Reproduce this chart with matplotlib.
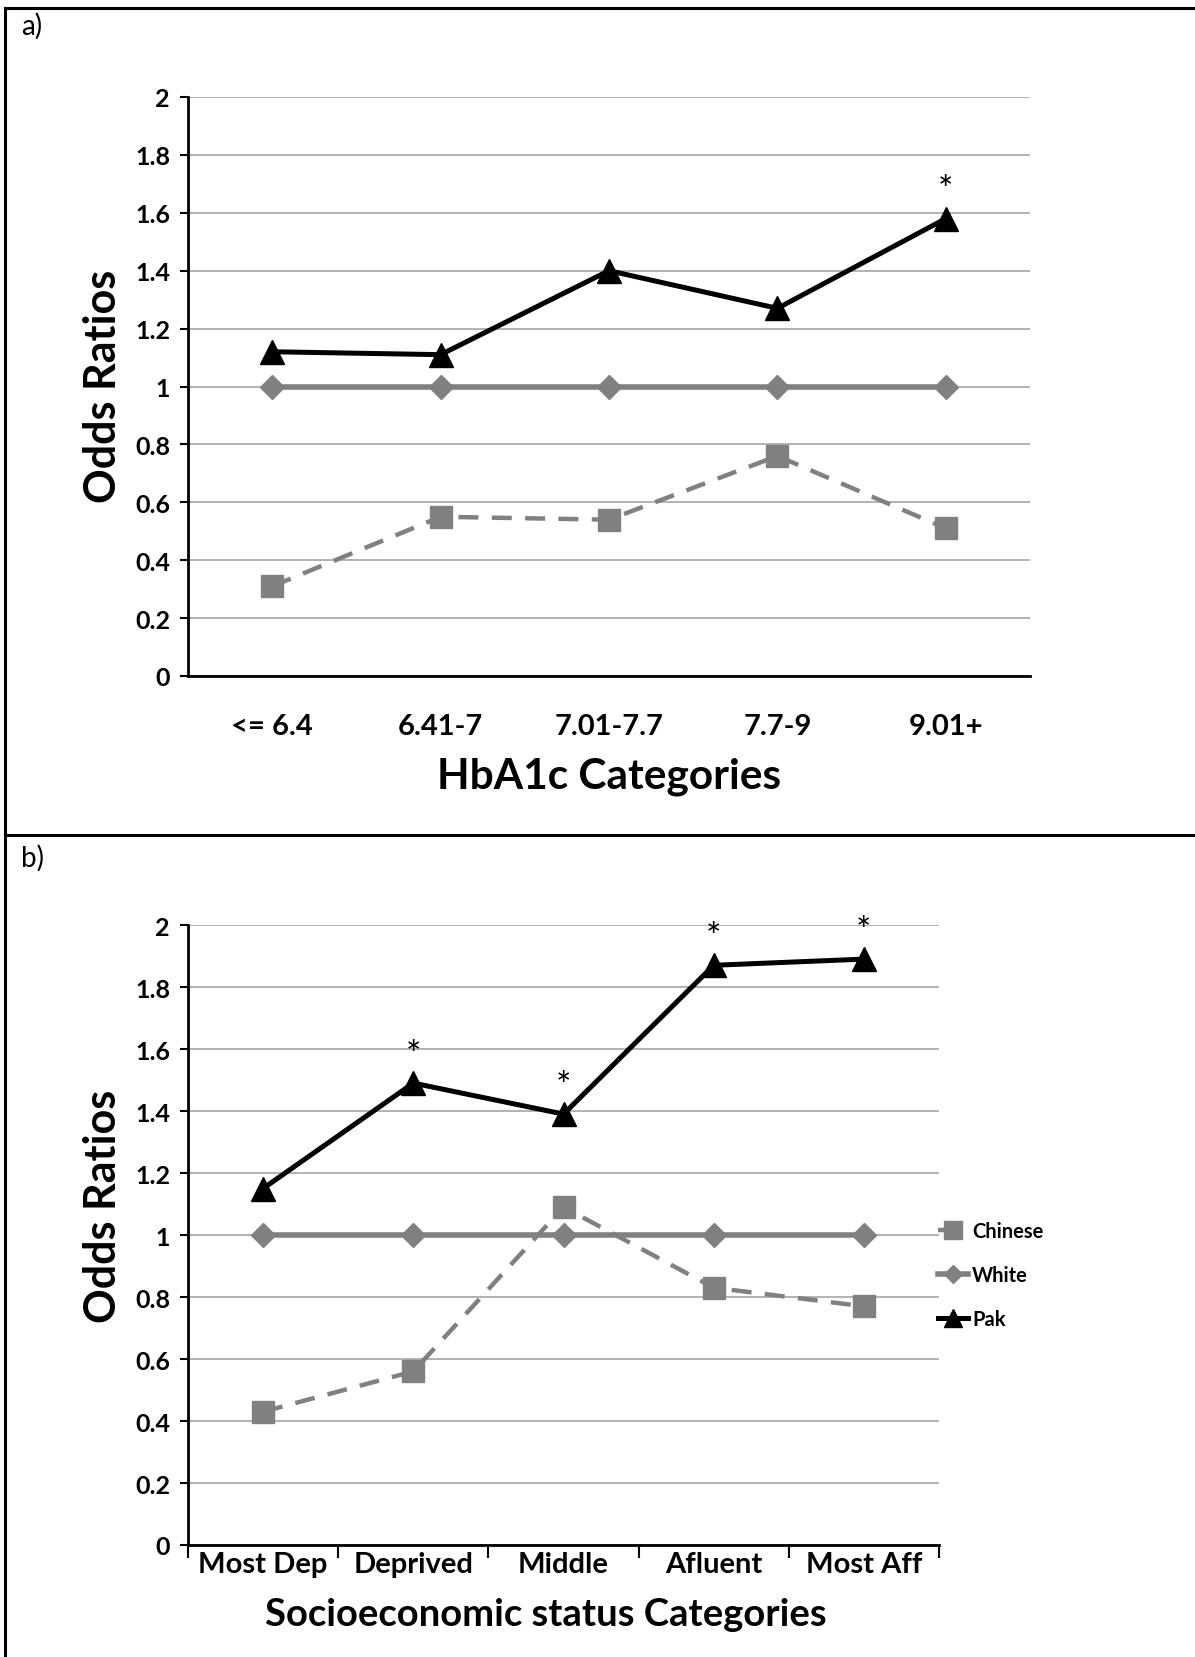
import matplotlib
matplotlib.use("Agg")
from matplotlib import pyplot as plt
from matplotlib.lines import Line2D

plt.rcParams['font.family'] = ['Lato', 'DejaVu Sans']

# panel a data
hba1c_cats = ['<= 6.4', '6.41-7', '7.01-7.7', '7.7-9', '9.01+']
hba1c_chinese = [0.31, 0.55, 0.54, 0.76, 0.51]
hba1c_white = [1, 1, 1, 1, 1]
hba1c_pak = [1.12, 1.11, 1.40, 1.27, 1.58]
hba1c_star = [False, False, False, False, True]

# panel b data
ses_cats = ['Most Dep', 'Deprived', 'Middle', 'Afluent', 'Most Aff']
ses_chinese = [0.43, 0.56, 1.09, 0.83, 0.77]
ses_white = [1, 1, 1, 1, 1]
ses_pak = [1.15, 1.49, 1.39, 1.87, 1.89]
ses_star = [False, True, True, True, True]

yticks = [0, 0.2, 0.4, 0.6, 0.8, 1, 1.2, 1.4, 1.6, 1.8, 2]
ytick_labels = ['0', '0.2', '0.4', '0.6', '0.8', '1', '1.2', '1.4', '1.6', '1.8', '2']

GREY = '#808080'
W, H = 1195, 1658

fig = plt.figure(figsize=(W / 100, H / 100), dpi=100)


def box(l, t, r, b):
    return [l / W, 1 - b / H, (r - l) / W, (b - t) / H]


def draw(ax, cats, chinese, white, pak, stars, xticks_between, xfs, xpad):
    x = range(len(cats))
    ax.plot(x, chinese, color=GREY, lw=3.2, ls=(0, (4.5, 3)), marker='s', ms=16,
            mec=GREY, mfc=GREY, label='Chinese', zorder=3)
    ax.plot(x, white, color=GREY, lw=4, marker='D', ms=12,
            mec=GREY, mfc=GREY, label='White', zorder=3)
    ax.plot(x, pak, color='black', lw=3.6, marker='^', ms=17,
            label='Pak', zorder=4)
    for i, s in enumerate(stars):
        if s:
            ax.annotate('*', (i, pak[i]), xytext=(0, 8), textcoords='offset points',
                        ha='center', va='bottom', fontsize=26)
    ax.set_xlim(-0.5, len(cats) - 0.5)
    ax.set_ylim(0, 2)
    ax.set_yticks(yticks)
    ax.set_yticklabels(ytick_labels, fontsize=18, fontweight='bold')
    ax.yaxis.grid(True, color='#a6a6a6', lw=1.2)
    ax.set_axisbelow(True)
    ax.spines['top'].set_visible(False)
    ax.spines['right'].set_visible(False)
    ax.spines['left'].set_linewidth(2)
    ax.spines['bottom'].set_linewidth(2)
    ax.tick_params(axis='y', length=6, width=1.5, pad=7)
    ax.set_xticks(list(x))
    ax.set_xticklabels(cats, fontsize=xfs, fontweight='bold')
    ax.tick_params(axis='x', length=0, pad=xpad)
    if xticks_between:
        ax.set_xticks([i - 0.5 for i in range(len(cats) + 1)], minor=True)
        ax.tick_params(axis='x', which='minor', length=9, width=1.5)


ax1 = fig.add_axes(box(188, 98, 1030, 677))
draw(ax1, hba1c_cats, hba1c_chinese, hba1c_white, hba1c_pak, hba1c_star, False, 21, 27)
fig.text(103 / W, 1 - 386 / H, 'Odds Ratios', rotation=90, ha='center', va='center',
         fontsize=31, fontweight='bold')
fig.text(609 / W, 1 - 777 / H, 'HbA1c Categories', ha='center', va='center',
         fontsize=30.5, fontweight='bold')

ax2 = fig.add_axes(box(188, 926, 939, 1546))
draw(ax2, ses_cats, ses_chinese, ses_white, ses_pak, ses_star, True, 21, 4)
fig.text(103 / W, 1 - 1206 / H, 'Odds Ratios', rotation=90, ha='center', va='center',
         fontsize=31, fontweight='bold')
fig.text(546 / W, 1 - 1615 / H, 'Socioeconomic status Categories', ha='center', va='center',
         fontsize=27.5, fontweight='bold')
leg = ax2.legend(loc='center left', bbox_to_anchor=(928 / W, 1 - 1276 / H),
                 bbox_transform=fig.transFigure, frameon=False, numpoints=1,
                 prop={'size': 14.5, 'weight': 'bold'}, handlelength=1.5,
                 handletextpad=0.2, labelspacing=1.2, borderpad=0,
                 markerscale=0.8)

# panel labels and frame
fig.text(21 / W, 1 - 26 / H, 'a)', fontsize=20, ha='left', va='center')
fig.text(21 / W, 1 - 858 / H, 'b)', fontsize=20, ha='left', va='center')
fig.add_artist(Line2D([5 / W, 1], [1 - 9 / H, 1 - 9 / H], color='black', lw=2.2))
fig.add_artist(Line2D([5 / W, 1], [1 - 836 / H, 1 - 836 / H], color='black', lw=2.2))
fig.add_artist(Line2D([5 / W, 5 / W], [1 - 9 / H, 0], color='black', lw=2.2))

fig.savefig('out.png', dpi=100)
